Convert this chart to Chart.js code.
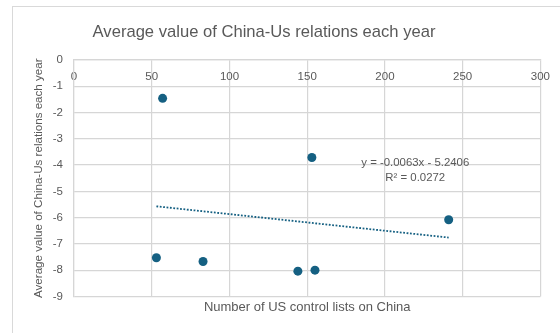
<!DOCTYPE html>
<html>
<head>
<meta charset="utf-8">
<script src="https://cdn.jsdelivr.net/npm/chart.js@4.4.1/dist/chart.umd.min.js"></script>
<style>
    html, body { margin: 0; padding: 0; background: #fff; overflow: hidden; }
    #frame { position: absolute; left: 12px; top: 6px; width: 700px; height: 500px; border: 1px solid #d9d9d9; }
    #wrap { position: absolute; left: 0; top: 0; width: 560px; height: 333px; }
</style>
</head>
<body>
<div id="frame"></div>
<div id="wrap"><canvas id="chart"></canvas></div>
<script>
// values
const controlLists = [57, 53, 83, 144, 155, 153, 241];
const relationValues = [-1.46, -7.53, -7.67, -8.04, -8.0, -3.71, -6.08];

// linear trendline end points
const trendX = [53, 241];
const trendY = [-5.57, -6.76];

const xTicks = [0, 50, 100, 150, 200, 250, 300];
const yTicks = [0, -1, -2, -3, -4, -5, -6, -7, -8, -9];

const chartTitle = 'Average value of China-Us relations each year';
const xTitle = 'Number of US control lists on China';
const yTitle = 'Average value of China-Us relations each year';
const trendLabel = ['y = -0.0063x - 5.2406', 'R\u00B2 = 0.0272'];

const textColor = '#595959';
const gridColor = '#d6d6d6';
const markColor = '#156082';
const fontFamily = '"Liberation Sans", Arial, sans-serif';

// title + trendline equation
const labelsPlugin = {
    id: 'labels',
    afterDraw(chart) {
        const ctx = chart.ctx;
        const x = chart.scales.x;
        const y = chart.scales.y;
        ctx.save();
        ctx.fillStyle = textColor;
        ctx.textAlign = 'center';
        ctx.textBaseline = 'middle';
        ctx.font = `16.6px ${fontFamily}`;
        ctx.fillText(chartTitle, 264, 32);
        ctx.font = `11.4px ${fontFamily}`;
        ctx.fillText(trendLabel[0], x.getPixelForValue(219.5), y.getPixelForValue(-3.9));
        ctx.fillText(trendLabel[1], x.getPixelForValue(219.5), y.getPixelForValue(-4.5));
        ctx.restore();
    }
};

new Chart(document.getElementById('chart'), {
    type: 'scatter',
    data: {
        datasets: [
            {
                data: controlLists.map((v, i) => ({ x: v, y: relationValues[i] })),
                backgroundColor: markColor,
                borderWidth: 0,
                pointRadius: 4.5,
                pointHoverRadius: 4.5
            },
            {
                data: trendX.map((v, i) => ({ x: v, y: trendY[i] })),
                showLine: true,
                borderColor: markColor,
                borderWidth: 1.8,
                borderDash: [1.8, 1.6],
                pointRadius: 0,
                pointHoverRadius: 0
            }
        ]
    },
    options: {
        responsive: true,
        maintainAspectRatio: false,
        animation: false,
        layout: { padding: { left: 12, right: 14, top: 60, bottom: 18 } },
        plugins: {
            legend: { display: false },
            tooltip: { enabled: false }
        },
        scales: {
            x: {
                type: 'linear',
                position: 'top',
                min: 0,
                max: 300,
                afterBuildTicks: (s) => { s.ticks = xTicks.map(v => ({ value: v })); },
                afterFit: (s) => { s.height = 0; },
                ticks: { mirror: true, padding: 10, color: textColor, font: { family: fontFamily, size: 11.5 } },
                grid: { color: gridColor, lineWidth: 1.2, drawTicks: false },
                border: { color: gridColor, width: 1.2 }
            },
            y: {
                type: 'linear',
                min: -9,
                max: 0,
                afterBuildTicks: (s) => { s.ticks = yTicks.map(v => ({ value: v })); },
                afterFit: (s) => { s.width = 62; },
                ticks: { padding: 11, color: textColor, font: { family: fontFamily, size: 11.5 } },
                grid: { color: gridColor, lineWidth: 1.2, drawTicks: false },
                border: { color: gridColor, width: 1.2 },
                title: {
                    display: true,
                    text: yTitle,
                    color: textColor,
                    font: { family: fontFamily, size: 11.6 },
                    padding: { top: 20, bottom: 0 }
                }
            },
            x2: {
                type: 'linear',
                position: 'bottom',
                min: 0,
                max: 300,
                ticks: { display: false },
                grid: { display: false, drawTicks: false },
                border: { display: false },
                title: {
                    display: true,
                    text: xTitle,
                    color: textColor,
                    font: { family: fontFamily, size: 13 },
                    padding: { top: 3, bottom: 0 }
                }
            }
        }
    },
    plugins: [labelsPlugin]
});
</script>
</body>
</html>
